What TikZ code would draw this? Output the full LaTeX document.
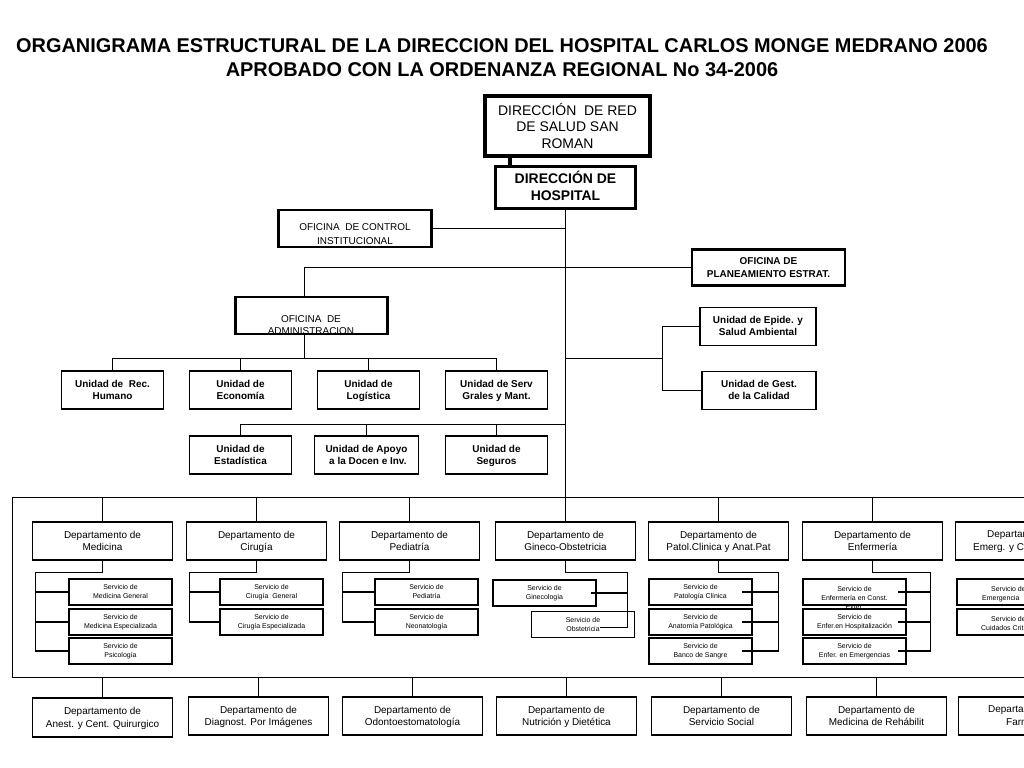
\documentclass[tikz,border=0pt]{standalone}
\usepackage{fontspec}
\setmainfont{Liberation Sans}
\usetikzlibrary{calc}
\newcommand\fsz[2]{\fontsize{#1}{#2}\selectfont}
\newcommand\twol[2]{\vphantom{Ég}#1\\\vphantom{Ég}#2}
\begin{document}
\begin{tikzpicture}[x=1bp,y=-1bp,
  box/.style={draw, line width=1.3pt, align=center, inner sep=0pt},
  tten/.style={align=center, inner sep=0pt, font=\fsz{10}{14}},
  offbox/.style={box, line width=2.7pt},
  unitbox/.style={box, line width=1.3pt, minimum width=102bp, minimum height=38bp, font=\bfseries\fsz{10}{12}},
  deptbox/.style={box, line width=1.5pt, minimum width=140bp, minimum height=38bp, font=\fsz{10}{12.5}},
  svbox/.style={box, line width=1.2pt, minimum width=103bp, minimum height=26bp, font=\fsz{7}{9}},
  svtxt/.style={align=center, inner sep=0pt, font=\fsz{7}{9}},
  botbox/.style={box, line width=1.5pt, minimum width=140bp, minimum height=38bp, font=\fsz{10}{12.5}},
  part/.style={anchor=base west, inner sep=0pt},
  conn/.style={line width=1.7pt}
]
\useasboundingbox (0,0) rectangle (1024,768);
\clip (0,0) rectangle (1024,768);

% title
\node[align=center, inner sep=0pt, font=\bfseries\fsz{20}{24}] (title) at (502,58)
  {ORGANIGRAMA ESTRUCTURAL DE LA DIRECCION DEL HOSPITAL CARLOS MONGE MEDRANO 2006\\APROBADO CON LA ORDENANZA REGIONAL No 34-2006};

% top
\node[box, line width=4.5pt, minimum width=165bp, minimum height=60bp, font=\fsz{14}{17}] (red) at (567.5,126)
  {DIRECCIÓN\ \ DE RED\\DE SALUD SAN\\ROMAN};
\node[box, line width=3.5pt, minimum width=140bp, minimum height=42bp, font=\bfseries\fsz{14}{17}] (hosp) at (565.5,187.5)
  {\twol{DIRECCIÓN DE}{HOSPITAL}};
\coordinate (rx) at (510,0);
\draw[line width=5pt] (red.south -| rx) -- (hosp.north -| rx);

\node[offbox, minimum width=153bp, minimum height=37bp] (ctrl) at (355,228.5) {};
\node[tten] (ctrlT) at (355,234.5) {\twol{OFICINA\ \ DE CONTROL}{INSTITUCIONAL}};
\node[offbox, minimum width=153bp, minimum height=36bp, font=\bfseries\fsz{10}{13}] (plan) at (768.5,267.5)
  {\twol{OFICINA DE}{PLANEAMIENTO ESTRAT.}};
\node[offbox, minimum width=152bp, minimum height=37bp] (adm) at (311.5,315.5) {};
\node[tten, font=\fsz{10}{12}] (admT) at (311,325.5) {\twol{OFICINA\ \ DE}{ADMINISTRACION}};

% units
\node[unitbox] (rh)  at (112.5,390) {\twol{Unidad de\ \ Rec.}{Humano}};
\node[unitbox] (eco) at (240.5,390) {\twol{Unidad de}{Economía}};
\node[unitbox] (log) at (368.5,390) {\twol{Unidad de}{Logística}};
\node[unitbox] (sg)  at (496.5,390) {\twol{Unidad de Serv}{Grales y Mant.}};
\node[unitbox] (est) at (240.5,455) {\twol{Unidad de}{Estadística}};
\node[unitbox, minimum width=104bp] (apo) at (366.5,455) {\twol{Unidad de Apoyo}{\ a la Docen e Inv.}};
\node[unitbox] (seg) at (496.5,455) {\twol{Unidad de}{Seguros}};
\node[unitbox, minimum width=116bp] (epi) at (758,326.5) {\twol{Unidad de Epide. y}{Salud Ambiental}};
\node[unitbox, minimum width=114bp] (ges) at (759,390.5) {\twol{Unidad de Gest.}{de la Calidad}};

% departments
\node[deptbox] (med) at (102.5,541) {\twol{Departamento de}{Medicina}};
\node[deptbox] (cir) at (256.5,541) {\twol{Departamento de}{Cirugía}};
\node[deptbox] (ped) at (409.5,541) {\twol{Departamento de}{Pediatría}};
\node[deptbox] (gin) at (565.5,541) {\twol{Departamento de}{Gineco-Obstetricia}};
\node[deptbox] (pat) at (718.5,541) {\twol{Departamento de}{Patol.Clinica y Anat.Pat}};
\node[deptbox] (enf) at (872.5,541) {\twol{Departamento de}{Enfermería}};
\node[deptbox] (eme) at (1025.5,541) {};
\node[part, font=\fsz{10}{12}] (emeT1) at (987,537) {Departam};
\node[part, font=\fsz{10}{12}] (emeT2) at (973,550) {Emerg. y C};

% services
\node[svbox] (medS1) at (120.5,592) {\twol{Servicio de}{Medicina General}};
\node[svbox] (medS2) at (120.5,622) {\twol{Servicio de}{Medicina Especializada}};
\node[svbox] (medS3) at (120.5,651) {\twol{Servicio de}{Psicología}};
\node[svbox] (cirS1) at (271.5,592) {\twol{Servicio de}{Cirugía\ \ General}};
\node[svbox] (cirS2) at (271.5,622) {\twol{Servicio de}{Cirugía Especializada}};
\node[svbox] (pedS1) at (426.5,592) {\twol{Servicio de}{Pediatría}};
\node[svbox] (pedS2) at (426.5,622) {\twol{Servicio de}{Neonatología}};
\node[svbox] (ginS1) at (544.5,593) {\twol{Servicio de}{Ginecología}};
\node[svbox] (ginS2) at (583,624.5) {\twol{Servicio de}{Obstetricia}};
\node[svbox] (patS1) at (700.5,592) {\twol{Servicio de}{Patología Clínica}};
\node[svbox] (patS2) at (700.5,622) {\twol{Servicio de}{Anatomía Patológica}};
\node[svbox] (patS3) at (700.5,651) {\twol{Servicio de}{Banco de Sangre}};
\node[svbox] (enfS1) at (854.5,592) {};
\node[svtxt] (enfS1T) at (854.5,598) {\vphantom{Ég}Servicio de\\\vphantom{Ég}Enfermería en Const.\\\vphantom{Ég}Exter.};
\node[svbox] (enfS2) at (854.5,622) {\twol{Servicio de}{Enfer.en Hospitalización}};
\node[svbox] (enfS3) at (854.5,651) {\twol{Servicio de}{Enfer. en Emergencias}};
\node[svbox] (emeS1) at (1008.5,592) {};
\node[svbox] (emeS2) at (1008.5,622) {};
\node[part, font=\fsz{7}{9}] (emeS1a) at (991,591.5) {Servicio de};
\node[part, font=\fsz{7}{9}] (emeS1b) at (982,600.5) {Emergencia};
\node[part, font=\fsz{7}{9}] (emeS2a) at (991,621.5) {Servicio de};
\node[part, font=\fsz{7}{9}] (emeS2b) at (981,630.5) {Cuidados Crit};

% bottom row
\node[botbox, minimum height=39bp] (ane) at (102.5,717.5) {\twol{Departamento de}{Anest. y Cent. Quirurgico}};
\node[botbox] (dia) at (258.5,716) {\twol{Departamento de}{Diagnost. Por Imágenes}};
\node[botbox] (odo) at (412.5,716) {\twol{Departamento de}{Odontoestomatología}};
\node[botbox] (nut) at (566.5,716) {\twol{Departamento de}{Nutrición y Dietética}};
\node[botbox] (soc) at (721.5,716) {\twol{Departamento de}{Servicio Social}};
\node[botbox] (reh) at (876.5,716) {\twol{Departamento de}{Medicina de Rehábilit}};
\node[botbox] (far) at (1028.5,716) {};
\node[part, font=\fsz{10}{12}] (farT1) at (988,712) {Departam};
\node[part, font=\fsz{10}{12}] (farT2) at (1006,725) {Farm};

% connectors: top part
\draw[conn] (hosp.south) -- (gin.north);
\draw[conn] (ctrl.east) -- (ctrl.east -| hosp.south);
\coordinate (admX) at (304.5,0);
\draw[conn] (adm.north -| admX) |- (plan.west);
\coordinate (bus1) at (304.5,358.5);
\draw[conn] (adm.south -| admX) -- (bus1);
\draw[conn] (rh.north) |- (bus1) -| (sg.north);
\draw[conn] (eco.north) -- (eco.north |- bus1);
\draw[conn] (log.north) -- (log.north |- bus1);
\coordinate (bus2) at (565.5,424.5);
\draw[conn] (est.north) |- (bus2);
\draw[conn] (apo.north) -- (apo.north |- bus2);
\draw[conn] (seg.north) -- (seg.north |- bus2);
\coordinate (rb) at (662.5,358.5);
\draw[conn] (rb -| hosp.south) -- (rb);
\draw[conn] (epi.west) -| (rb) |- (ges.west);

% big frame
\coordinate (tl) at (12.5,497.5);
\coordinate (bl) at (12.5,677.5);
\coordinate (tr) at (1040,497.5);
\coordinate (br) at (1040,677.5);
\draw[conn] (tr) -- (tl) -- (bl) -- (br);
\foreach \n in {med,cir,ped,pat,enf,eme} \draw[conn] (\n.north) -- (\n.north |- tl);
\foreach \n in {ane,dia,odo,nut,soc,reh,far} \draw[conn] (\n.north) -- (\n.north |- bl);

% service connectors
\coordinate (medK) at (35.5,572.5);
\draw[conn] (med.south) |- (medK) |- (medS3.west);
\draw[conn] (medK |- medS1.west) -- (medS1.west);
\draw[conn] (medK |- medS2.west) -- (medS2.west);
\coordinate (cirK) at (189.5,572.5);
\draw[conn] (cir.south) |- (cirK) |- (cirS2.west);
\draw[conn] (cirK |- cirS1.west) -- (cirS1.west);
\coordinate (pedK) at (342.5,572.5);
\draw[conn] (ped.south) |- (pedK) |- (pedS2.west);
\draw[conn] (pedK |- pedS1.west) -- (pedS1.west);
\coordinate (ginK) at (627.5,572.5);
\coordinate (ginE) at (600,627.5);
\draw[conn] (gin.south) |- (ginK) |- (ginE);
\draw[conn] (ginK |- ginS1.east) -- ($(ginS1.east)+(-6,0)$);
\coordinate (patK) at (778.5,572.5);
\draw[conn] (pat.south) |- (patK) |- ($(patS3.east)+(-11,0)$);
\draw[conn] (patK |- patS1.east) -- ($(patS1.east)+(-11,0)$);
\draw[conn] (patK |- patS2.east) -- ($(patS2.east)+(-11,0)$);
\coordinate (enfK) at (930.5,572.5);
\draw[conn] (enf.south) |- (enfK) |- ($(enfS3.east)+(-9,0)$);
\draw[conn] (enfK |- enfS1.east) -- ($(enfS1.east)+(-9,0)$);
\draw[conn] (enfK |- enfS2.east) -- ($(enfS2.east)+(-9,0)$);
\end{tikzpicture}
\end{document}
